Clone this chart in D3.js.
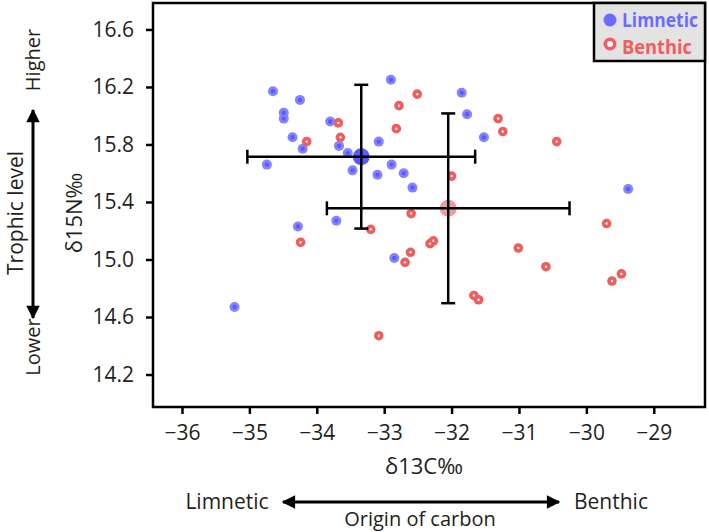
<!DOCTYPE html>
<html>
<head>
<meta charset="utf-8">
<script src="https://cdn.jsdelivr.net/npm/d3@7"></script>
<style>
  body { margin: 0; background: #fff; }
  text { font-family: "Open Sans", "Noto Sans", sans-serif; fill: #231f20; }
</style>
</head>
<body>
<svg id="chart" width="709" height="532"></svg>
<script>
// isotope values (d13C, d15N)
var limneticC = [-34.65, -34.25, -34.49, -34.49, -33.80, -34.36, -34.21, -33.67, -34.74, -33.54,
                 -33.08, -33.47, -32.89, -33.10, -32.71, -32.58, -31.77, -31.52, -34.28, -33.71,
                 -32.85, -29.38, -35.22, -32.90, -31.85];
var limneticN = [16.17, 16.11, 16.02, 15.98, 15.96, 15.85, 15.77, 15.79, 15.66, 15.74,
                 15.82, 15.62, 15.66, 15.59, 15.60, 15.50, 16.01, 15.85, 15.23, 15.27,
                 15.01, 15.49, 14.67, 16.25, 16.16];
var benthicC = [-32.78, -33.68, -32.82, -33.65, -34.15, -32.00, -31.31, -31.24, -30.44, -32.60,
                -33.20, -34.24, -32.27, -32.32, -32.61, -32.69, -31.01, -30.60, -29.70, -29.48,
                -29.62, -31.67, -31.60, -33.08, -32.51];
var benthicN = [16.07, 15.95, 15.91, 15.85, 15.82, 15.58, 15.98, 15.89, 15.82, 15.32,
                15.21, 15.12, 15.13, 15.11, 15.05, 14.98, 15.08, 14.95, 15.25, 14.90,
                14.85, 14.75, 14.72, 14.47, 16.15];

// group means and errors: [meanC, meanN, errC, errN]
var limneticMean = [-33.34, 15.715, 1.69, 0.50];
var benthicMean = [-32.05, 15.356, 1.80, 0.66];

var xTicks = [-36, -35, -34, -33, -32, -31, -30, -29];
var yTicks = [14.2, 14.6, 15.0, 15.4, 15.8, 16.2, 16.6];
var legendLabels = ["Limnetic", "Benthic"];

var blue = "#6b6bff", red = "#f25c5c";

var svg = d3.select("#chart");
var mLeft = 153, mRight = 705, mTop = 3, mBottom = 407;

var x = d3.scaleLinear().domain([-36.43, -28.24]).range([mLeft, mRight]);
var y = d3.scaleLinear().domain([13.974, 16.784]).range([mBottom, mTop]);

// axes
var axX = svg.append("g")
    .attr("transform", "translate(0," + mBottom + ")")
    .call(d3.axisBottom(x).tickValues(xTicks).tickSizeOuter(0).tickSize(7).tickPadding(11));
var axY = svg.append("g")
    .attr("transform", "translate(" + mLeft + ",0)")
    .call(d3.axisLeft(y).tickValues(yTicks).tickFormat(d3.format(".1f")).tickSizeOuter(0).tickSize(7).tickPadding(12));
[axX, axY].forEach(function (g) {
    g.select(".domain").remove();
    g.selectAll(".tick line").attr("stroke", "#000").attr("stroke-width", 2.5);
    g.selectAll(".tick text").style("font-size", "21px").attr("fill", "#231f20");
});

// frame
svg.append("rect")
    .attr("x", mLeft).attr("y", mTop)
    .attr("width", mRight - mLeft).attr("height", mBottom - mTop)
    .attr("fill", "none").attr("stroke", "#000").attr("stroke-width", 2.5);

var plot = svg.append("g");

function dots(cs, ns, kind) {
    var data = cs.map(function (c, i) { return [c, ns[i]]; });
    var g = plot.append("g");
    if (kind == "l") {
        g.selectAll("circle.o").data(data).enter().append("circle")
            .attr("cx", function (d) { return x(d[0]); })
            .attr("cy", function (d) { return y(d[1]); })
            .attr("r", 5).attr("fill", "#8484ff");
        g.selectAll("circle.i").data(data).enter().append("circle")
            .attr("cx", function (d) { return x(d[0]); })
            .attr("cy", function (d) { return y(d[1]); })
            .attr("r", 2.2).attr("fill", "#5a5aff");
    } else {
        g.selectAll("circle.o").data(data).enter().append("circle")
            .attr("cx", function (d) { return x(d[0]); })
            .attr("cy", function (d) { return y(d[1]); })
            .attr("r", 4.8).attr("fill", red);
        g.selectAll("circle.i").data(data).enter().append("circle")
            .attr("cx", function (d) { return x(d[0]); })
            .attr("cy", function (d) { return y(d[1]); })
            .attr("r", 1.2).attr("fill", "#fff");
    }
}
dots(limneticC, limneticN, "l");
dots(benthicC, benthicN, "b");

// mean markers and error bars
function meanBar(m, col, ring) {
    var cx = x(m[0]), cy = y(m[1]);
    plot.append("circle").attr("cx", cx).attr("cy", cy).attr("r", 8.5)
        .attr("fill", ring ? "#f29a9a" : col).attr("fill-opacity", ring ? 1 : 0.85);
    if (ring) plot.append("circle").attr("cx", cx).attr("cy", cy).attr("r", 5).attr("fill", "#c8b4b4");
    var g = plot.append("g").attr("stroke", "#000").attr("stroke-width", 2.5);
    g.append("line").attr("x1", x(m[0] - m[2])).attr("x2", x(m[0] + m[2])).attr("y1", cy).attr("y2", cy);
    g.append("line").attr("x1", cx).attr("x2", cx).attr("y1", y(m[1] - m[3])).attr("y2", y(m[1] + m[3]));
    [m[0] - m[2], m[0] + m[2]].forEach(function (v) {
        g.append("line").attr("x1", x(v)).attr("x2", x(v)).attr("y1", cy - 7).attr("y2", cy + 7);
    });
    [m[1] - m[3], m[1] + m[3]].forEach(function (v) {
        g.append("line").attr("x1", cx - 7).attr("x2", cx + 7).attr("y1", y(v)).attr("y2", y(v));
    });
}
meanBar(limneticMean, "#3c3cff", false);
meanBar(benthicMean, red, true);

// legend
var lg = svg.append("g");
lg.append("rect").attr("x", 594).attr("y", 3).attr("width", 111).attr("height", 58)
    .attr("fill", "#e3e3e3").attr("stroke", "#000").attr("stroke-width", 2.5);
lg.append("circle").attr("cx", 610).attr("cy", 20).attr("r", 6.5).attr("fill", blue);
lg.append("circle").attr("cx", 610).attr("cy", 44).attr("r", 6.5).attr("fill", red);
lg.append("circle").attr("cx", 610).attr("cy", 44).attr("r", 3).attr("fill", "#fff");
// condensed bold text: squeeze horizontally to the widths seen in the figure
lg.selectAll("text.lab").data(legendLabels).enter().append("text")
    .attr("class", "lab")
    .style("font-weight", "bold").style("font-size", "20px")
    .style("fill", function (d, i) { return i == 0 ? blue : red; })
    .text(function (d) { return d; })
    .attr("transform", function (d, i) {
        var w = this.getComputedTextLength();
        var target = i == 0 ? 76 : 70;
        return "translate(622," + (27 + i * 27) + ") scale(" + (target / w) + ",1)";
    });

// axis titles
svg.append("text").attr("x", 424).attr("y", 474).attr("text-anchor", "middle")
    .style("font-size", "22px").text("δ13C‰");
svg.append("text").attr("transform", "translate(82,213) rotate(-90)").attr("text-anchor", "middle")
    .style("font-size", "22px").text("δ15N‰");

// arrow markers
var defs = svg.append("defs");
defs.append("marker").attr("id", "ah").attr("viewBox", "0 0 10 10")
    .attr("refX", 9).attr("refY", 5).attr("markerWidth", 5).attr("markerHeight", 4.5)
    .attr("orient", "auto-start-reverse")
    .append("path").attr("d", "M0,0L10,5L0,10Z").attr("fill", "#000");

svg.append("line").attr("x1", 283).attr("x2", 559).attr("y1", 502).attr("y2", 502)
    .attr("stroke", "#000").attr("stroke-width", 3)
    .attr("marker-start", "url(#ah)").attr("marker-end", "url(#ah)");
svg.append("text").attr("x", 227).attr("y", 509).attr("text-anchor", "middle").style("font-size", "21px").text("Limnetic");
svg.append("text").attr("x", 611).attr("y", 509).attr("text-anchor", "middle").style("font-size", "21px").text("Benthic");
svg.append("text").attr("x", 420).attr("y", 526).attr("text-anchor", "middle").style("font-size", "20px").text("Origin of carbon");

svg.append("line").attr("x1", 33).attr("x2", 33).attr("y1", 110).attr("y2", 318)
    .attr("stroke", "#000").attr("stroke-width", 3)
    .attr("marker-start", "url(#ah)").attr("marker-end", "url(#ah)");
svg.append("text").attr("transform", "translate(40,60) rotate(-90)").attr("text-anchor", "middle").style("font-size", "20px").text("Higher");
svg.append("text").attr("transform", "translate(40,347) rotate(-90)").attr("text-anchor", "middle").style("font-size", "20px").text("Lower");
svg.append("text").attr("transform", "translate(23,213) rotate(-90)").attr("text-anchor", "middle").style("font-size", "21px").text("Trophic level");
</script>
</body>
</html>
